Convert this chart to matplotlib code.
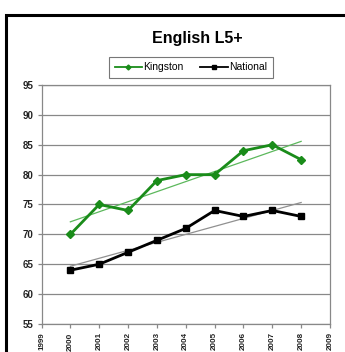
import matplotlib
matplotlib.use("Agg")
import matplotlib.pyplot as plt
import numpy as np
from matplotlib.patches import Rectangle
from matplotlib.lines import Line2D

plt.rcParams['font.family'] = ['Liberation Sans', 'DejaVu Sans']

years = [2000, 2001, 2002, 2003, 2004, 2005, 2006, 2007, 2008]
kingston = [70, 75, 74, 79, 80, 80, 84, 85, 82.5]
national = [64, 65, 67, 69, 71, 74, 73, 74, 73]
year_ticks = list(range(1999, 2010))
y_ticks = [55, 60, 65, 70, 75, 80, 85, 90, 95]

W, H = 345, 352
fig = plt.figure(figsize=(W / 100, H / 100), dpi=100)

# outer chart frame
fig.patches.append(Rectangle((6 / W, -0.1), 1.2, 1 - 15 / H + 0.1,
                             transform=fig.transFigure, fill=False,
                             edgecolor='black', linewidth=2.2))

ax = fig.add_axes([41.5 / W, 1 - 324 / H, (330 - 41.5) / W, (324 - 85) / H])

green = '#1a8c1a'
x = np.array(years)

ax.plot(years, kingston, color=green, lw=2.0, marker='D', ms=4.5, zorder=4)
ax.plot(years, national, color='black', lw=2.0, marker='s', ms=4.5, zorder=4)

# linear trend lines
for series, col in ((kingston, '#5cb85c'), (national, '#909090')):
    k, b = np.polyfit(x, series, 1)
    ax.plot(x, k * x + b, color=col, lw=0.9, zorder=3)

ax.set_xlim(1999, 2009)
ax.set_ylim(55, 95)
ax.set_yticks(y_ticks)
ax.set_xticks(year_ticks)
ax.set_xticklabels([str(v) for v in year_ticks], rotation=90, fontsize=5.8,
                   va='top', fontweight='bold', color='#222222')
ax.set_yticklabels([str(v) for v in y_ticks], fontsize=7, fontweight='bold',
                   color='#222222')
ax.yaxis.grid(True, color='#888888', lw=0.9)
ax.set_axisbelow(True)
for s in ax.spines.values():
    s.set_color('#888888')
    s.set_linewidth(0.9)
ax.tick_params(axis='both', color='#888888', length=3, width=0.9, pad=3)
ax.tick_params(axis='x', pad=3)

fig.text(197 / W, 1 - 38 / H, 'English L5+', ha='center', va='center',
         fontsize=11.5, fontweight='bold')

handles = [Line2D([], [], color=green, lw=1.3, marker='D', ms=2.5),
           Line2D([], [], color='black', lw=1.3, marker='s', ms=2.8)]
leg = fig.legend(handles, ['Kingston', 'National'], loc='center',
                 bbox_to_anchor=(191 / W, 1 - 67.5 / H), ncol=2, fontsize=7.5,
                 frameon=True, fancybox=False, edgecolor='#555555',
                 handlelength=2.6, columnspacing=1.6, handletextpad=0.15,
                 borderpad=0.55)
leg.get_frame().set_linewidth(0.8)

fig.savefig('out.png', dpi=100)
